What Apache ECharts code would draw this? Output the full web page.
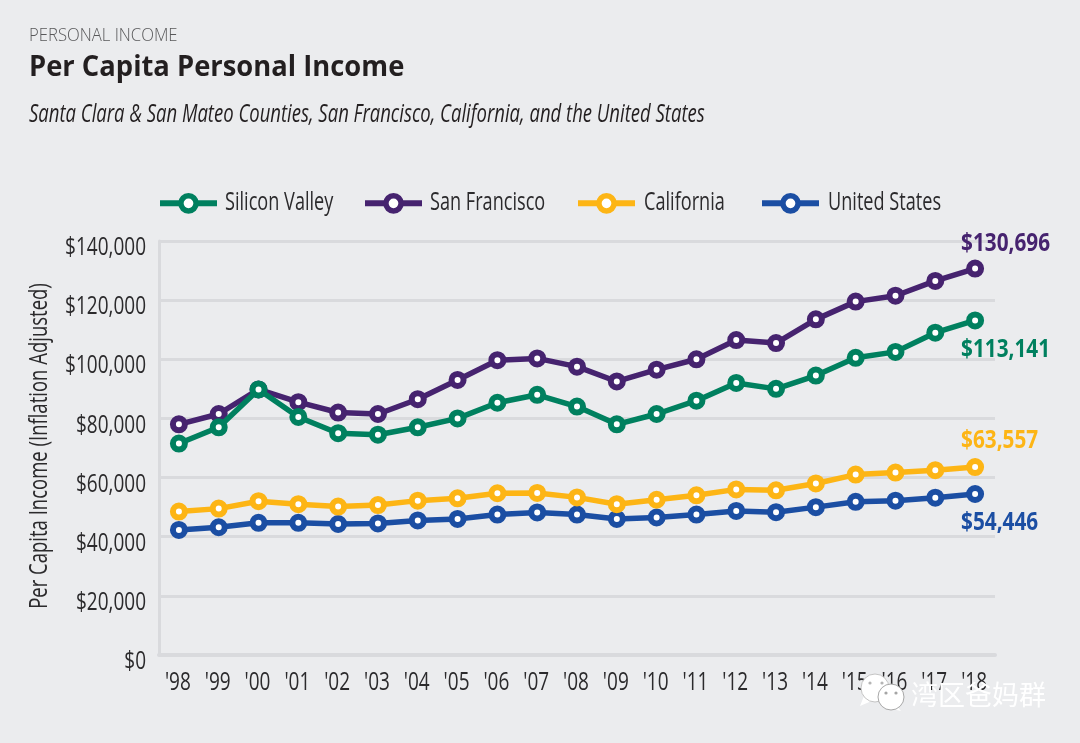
<!DOCTYPE html>
<html>
<head>
<meta charset="utf-8">
<style>
  html, body { margin: 0; padding: 0; background: #ebecee; }
  #main { width: 1080px; height: 743px; }
</style>
<script src="https://cdn.jsdelivr.net/npm/echarts@6/dist/echarts.min.js"></script>
</head>
<body>
<div id="main"></div>
<script>
var years = ["'98", "'99", "'00", "'01", "'02", "'03", "'04", "'05", "'06", "'07", "'08",
             "'09", "'10", "'11", "'12", "'13", "'14", "'15", "'16", "'17", "'18"];
var yTicks = [0, 20000, 40000, 60000, 80000, 100000, 120000, 140000];
var seriesNames = ['Silicon Valley', 'San Francisco', 'California', 'United States'];
var seriesColors = ['#00805f', '#46236f', '#fdb515', '#1b4ea3'];
var siliconValley = [71500, 77000, 89800, 80500, 75000, 74500, 77000, 80000, 85300, 88000, 84000,
                     78000, 81500, 86000, 92000, 90000, 94500, 100500, 102500, 109000, 113141];
var sanFrancisco = [78000, 81500, 89800, 85500, 82000, 81500, 86500, 93000, 99700, 100300, 97500,
                    92500, 96500, 100000, 106500, 105500, 113500, 119500, 121500, 126500, 130696];
var california = [48500, 49500, 52000, 51000, 50200, 50700, 52200, 53000, 54700, 54800, 53300,
                  51000, 52500, 54000, 56000, 55700, 58000, 61000, 61700, 62500, 63557];
var unitedStates = [42300, 43200, 44700, 44700, 44300, 44500, 45500, 46000, 47500, 48200, 47500,
                    46000, 46500, 47500, 48700, 48300, 50000, 51800, 52200, 53200, 54446];
var allValues = [siliconValley, sanFrancisco, california, unitedStates];

var font = '"Open Sans", sans-serif';
var textColor = '#2b2a2c';
var gridColor = '#d9dadd';

function money(v) {
  return '$' + String(v).replace(/\B(?=(\d{3})+$)/g, ',');
}

// no condensed face is installed, so narrow labels are squeezed text elements
function squeezed(text, x, y, size, scale, extra) {
  extra = extra || {};
  return {
    type: 'text',
    x: x,
    y: y,
    scaleX: scale,
    rotation: extra.rotation || 0,
    z: 20,
    style: {
      text: text,
      fontFamily: font,
      fontSize: size,
      fontWeight: extra.weight || 'normal',
      fontStyle: extra.style || 'normal',
      fill: extra.color || textColor,
      textAlign: extra.align || 'left',
      textVerticalAlign: 'middle'
    }
  };
}

function makeSeries(name, data, color, z) {
  return {
    name: name,
    type: 'line',
    data: data,
    z: z,
    symbol: 'circle',
    symbolSize: 12,
    showAllSymbol: true,
    clip: false,
    lineStyle: { color: color, width: 5.5 },
    itemStyle: { color: '#fff', borderColor: color, borderWidth: 6, opacity: 1 },
    emphasis: { disabled: true },
    animation: false
  };
}

function makeLegend(name, left) {
  return {
    left: left,
    top: 193,
    padding: 0,
    itemWidth: 57,
    itemHeight: 19,
    data: [name],
    formatter: function () { return ''; },
    lineStyle: { width: 6 },
    itemStyle: { borderWidth: 5.5 }
  };
}

var chart = echarts.init(document.getElementById('main'));

chart.setOption({
  backgroundColor: '#ebecee',
  animation: false,
  legend: [makeLegend(seriesNames[0], 157), makeLegend(seriesNames[1], 362),
           makeLegend(seriesNames[2], 575), makeLegend(seriesNames[3], 759)],
  grid: { left: 159, right: 85, top: 241, bottom: 88 },
  xAxis: {
    type: 'category',
    data: years,
    boundaryGap: true,
    axisTick: { show: false },
    axisLine: { lineStyle: { color: gridColor, width: 4 } },
    axisLabel: { show: false }
  },
  yAxis: {
    type: 'value',
    min: 0,
    max: 140000,
    interval: 20000,
    axisLine: { show: true, lineStyle: { color: gridColor, width: 3 } },
    axisTick: { show: false },
    splitLine: { lineStyle: { color: gridColor, width: 3 } },
    axisLabel: { show: false }
  },
  series: [
    makeSeries(seriesNames[0], siliconValley, seriesColors[0], 6),
    makeSeries(seriesNames[1], sanFrancisco, seriesColors[1], 5),
    makeSeries(seriesNames[2], california, seriesColors[2], 4),
    makeSeries(seriesNames[3], unitedStates, seriesColors[3], 3)
  ]
});

var graphics = [
  squeezed('PERSONAL INCOME', 29, 36, 17.5, 0.953, { color: '#58585a', weight: 300 }),
  squeezed('Per Capita Personal Income', 29, 68, 28, 0.977, { color: '#231f20', weight: 'bold' }),
  squeezed('Santa Clara & San Mateo Counties, San Francisco, California, and the United States',
           29, 115, 25, 0.74, { color: '#231f20', style: 'italic' }),
  squeezed('Per Capita Income (Inflation Adjusted)', 40, 446, 25, 0.74,
           { align: 'center', rotation: Math.PI / 2 })
];

var legendTextX = [225, 430, 644, 828];
seriesNames.forEach(function (name, i) {
  graphics.push(squeezed(name, legendTextX[i], 203, 25, 0.725));
});

yTicks.forEach(function (v) {
  graphics.push(squeezed(money(v), 146, chart.convertToPixel({ yAxisIndex: 0 }, v) + 7, 25, 0.76, { align: 'right' }));
});

years.forEach(function (label, i) {
  graphics.push(squeezed(label, chart.convertToPixel({ xAxisIndex: 0 }, i) - 1, 683, 25, 0.76, { align: 'center' }));
});

// value labels beside the last point of each line
var endOffsets = [29, -25, -26, 29];
allValues.forEach(function (values, i) {
  var last = values.length - 1;
  var p = chart.convertToPixel({ seriesIndex: i }, [last, values[last]]);
  graphics.push(squeezed(money(values[last]), p[0] - 14, p[1] + endOffsets[i], 25, 0.83,
                         { color: seriesColors[i], weight: 'bold' }));
});

// watermark
graphics.push(
  { type: 'polygon', shape: { points: [[864, 696], [860, 706], [874, 700]] }, style: { fill: '#fff' }, z: 30 },
  { type: 'circle', shape: { cx: 875, cy: 688, r: 14 }, style: { fill: '#fff', stroke: '#c4c4c4', lineWidth: 1 }, z: 30 },
  { type: 'polygon', shape: { points: [[896, 705], [901, 711], [888, 708]] }, style: { fill: '#fff' }, z: 31 },
  { type: 'circle', shape: { cx: 891, cy: 697, r: 13 }, style: { fill: '#fff', stroke: '#a8a8a8', lineWidth: 1 }, z: 31 },
  { type: 'circle', shape: { cx: 870, cy: 683, r: 1.6 }, style: { fill: '#b5b5b5' }, z: 32 },
  { type: 'circle', shape: { cx: 882, cy: 683, r: 1.6 }, style: { fill: '#b5b5b5' }, z: 30.5 },
  { type: 'circle', shape: { cx: 886, cy: 693, r: 1.6 }, style: { fill: '#a5a5a5' }, z: 32 },
  { type: 'circle', shape: { cx: 896, cy: 693, r: 1.6 }, style: { fill: '#a5a5a5' }, z: 32 },
  { type: 'text', x: 911, y: 695, z: 33,
    style: { text: '湾区爸妈群', fontFamily: '"Noto Sans CJK SC"', fontSize: 27, fill: '#fff',
             textVerticalAlign: 'middle', shadowColor: '#777', shadowBlur: 1, shadowOffsetX: 1, shadowOffsetY: 1 } }
);

chart.setOption({ graphic: graphics });
</script>
</body>
</html>
